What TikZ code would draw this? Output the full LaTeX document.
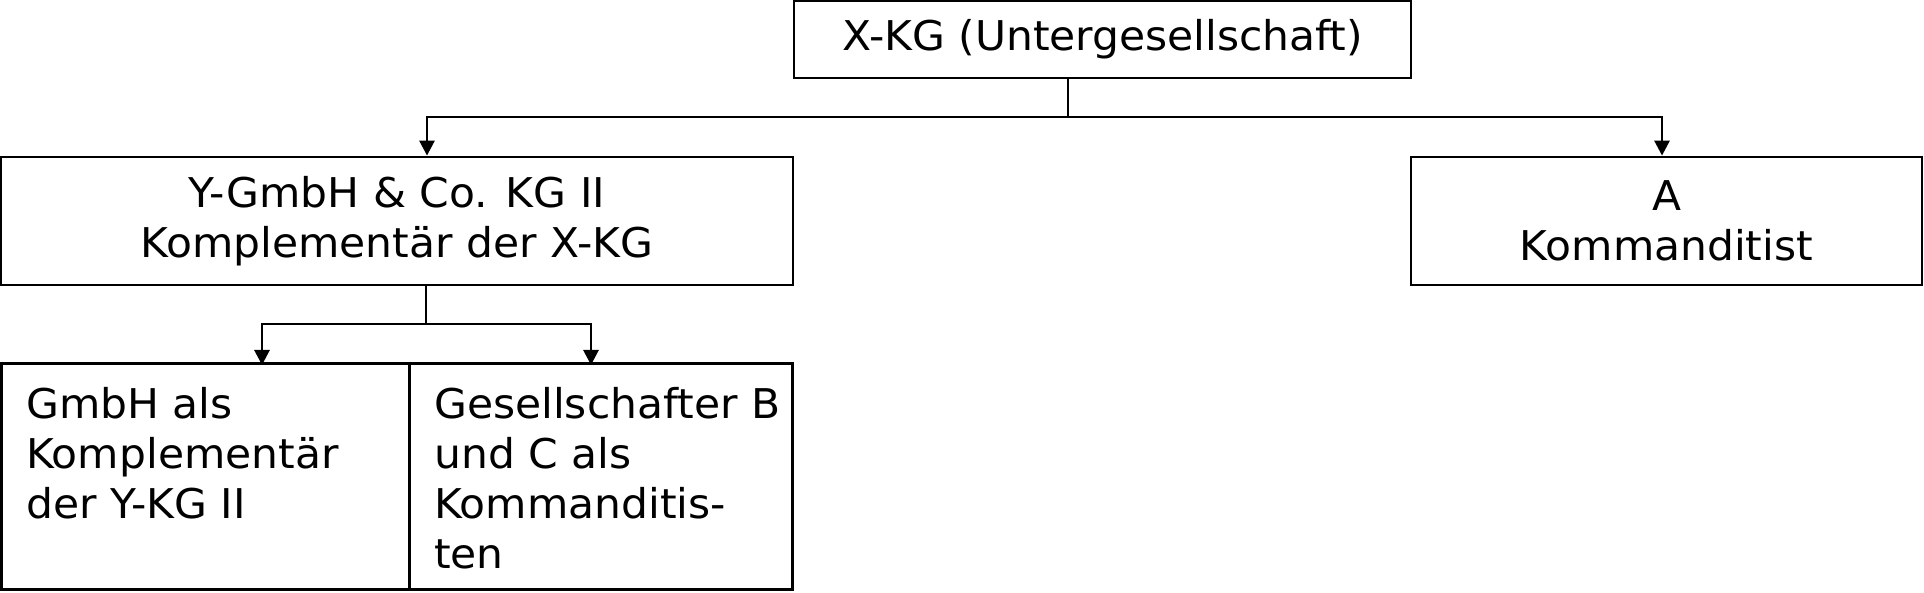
\documentclass[tikz,border=0pt]{standalone}
\usepackage{fontspec}
\setmainfont{DejaVu Sans}[FakeStretch=1.035]
\usetikzlibrary{arrows.meta}
\begin{document}
\begin{tikzpicture}[x=1pt,y=-1pt,
  box/.style={draw, line width=2.8pt, inner sep=0pt, font=\fontsize{41}{50}\selectfont},
  txt/.style={inner sep=0pt, align=left, font=\fontsize{41}{50}\selectfont},
  plain/.style={line width=2.8pt},
  conn/.style={line width=2.8pt, -{Triangle[width=15pt,length=15pt]}}]
\useasboundingbox (0,0) rectangle (1924,593);
% boxes
\node[box, minimum width=617pt, minimum height=77pt] (top) at (1102.5,39.5) {X-KG (Untergesellschaft)};
\node[box, minimum width=792pt, minimum height=128pt, align=center] (y) at (397,221) {Y-GmbH \& Co. KG II\\Komplementär der X-KG};
\node[box, minimum width=511pt, minimum height=128pt, align=center] (a) at (1666.5,221) {A\\Kommanditist};
\node[box, outer sep=0pt, minimum width=408pt, minimum height=226pt, anchor=north west] (g) at (1.4,363.6) {};
\node[box, outer sep=0pt, minimum width=383pt, minimum height=226pt, anchor=north west] (b) at (g.north east) {};
\node[txt, anchor=north west] (gt) at (26,387) {GmbH als\\Komplementär\\der Y-KG II};
\node[txt, anchor=north west] (bt) at (434,387) {Gesellschafter B\\und C als\\Kommanditis-\\ten};
% connectors
\coordinate (j1) at (1068,117);
\coordinate (yl) at (427,117);
\coordinate (ar) at (1662,117);
\draw[plain] (top.south -| j1) -- (j1);
\draw[conn] (j1) -- (yl) -- (yl |- y.north);
\draw[conn] (j1) -- (ar) -- (ar |- a.north);
\coordinate (j2) at (426,324);
\coordinate (gl) at (262,324);
\coordinate (br) at (591,324);
\draw[plain] (j2 |- y.south) -- (j2);
\draw[conn] (j2) -- (gl) -- ([yshift=-1.4pt]gl |- g.north);
\draw[conn] (j2) -- (br) -- ([yshift=-1.4pt]br |- b.north);
\end{tikzpicture}
\end{document}
